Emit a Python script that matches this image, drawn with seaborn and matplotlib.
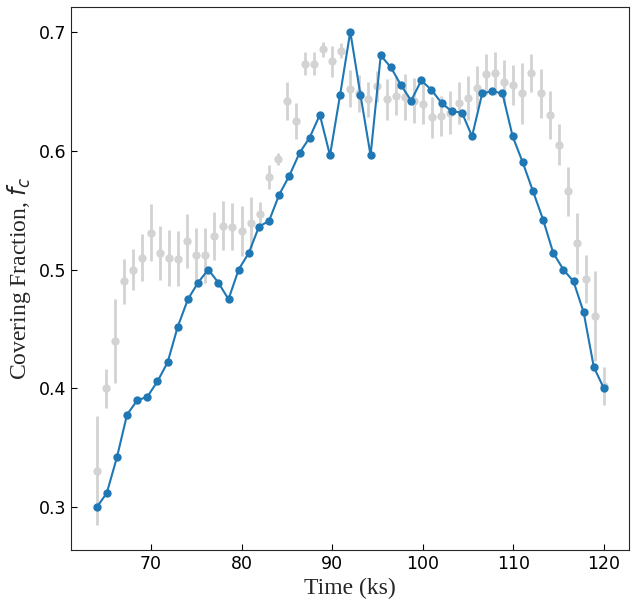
import numpy as np
import pandas as pd
import matplotlib
matplotlib.use('Agg')
import matplotlib.pyplot as plt
import seaborn as sns

# Courbe modélisée (bleu)
time_model = [64.00, 65.12, 66.24, 67.36, 68.48, 69.60, 70.72, 71.84, 72.96, 74.08,
              75.20, 76.32, 77.44, 78.56, 79.68, 80.80, 81.92, 83.04, 84.16, 85.28,
              86.40, 87.52, 88.64, 89.76, 90.88, 92.00, 93.12, 94.24, 95.36, 96.48,
              97.60, 98.72, 99.84, 100.96, 102.08, 103.20, 104.32, 105.44, 106.56, 107.68,
              108.80, 109.92, 111.04, 112.16, 113.28, 114.40, 115.52, 116.64, 117.76, 118.88,
              120.00]
fc_model = [0.300, 0.312, 0.342, 0.378, 0.390, 0.393, 0.406, 0.422, 0.452, 0.475,
            0.489, 0.500, 0.489, 0.475, 0.500, 0.514, 0.536, 0.541, 0.563, 0.579,
            0.598, 0.611, 0.630, 0.596, 0.647, 0.700, 0.647, 0.596, 0.680, 0.670,
            0.655, 0.642, 0.659, 0.651, 0.640, 0.633, 0.632, 0.612, 0.648, 0.650,
            0.648, 0.612, 0.590, 0.566, 0.542, 0.514, 0.500, 0.490, 0.464, 0.418,
            0.400]

# Mesures (gris) avec barres d'erreur
time_obs = [64, 65, 66, 67, 68, 69, 70, 71, 72, 73, 74, 75, 76, 77, 78, 79, 80, 81, 82,
            83, 84, 85, 86, 87, 88, 89, 90, 91, 92, 93, 94, 95, 96, 97, 98, 99, 100, 101,
            102, 103, 104, 105, 106, 107, 108, 109, 110, 111, 112, 113, 114, 115, 116,
            117, 118, 119, 120]
fc_obs = [0.331, 0.400, 0.440, 0.490, 0.500, 0.510, 0.531, 0.514, 0.510, 0.509,
          0.524, 0.512, 0.512, 0.528, 0.537, 0.536, 0.532, 0.539, 0.547, 0.578,
          0.593, 0.642, 0.625, 0.673, 0.673, 0.685, 0.675, 0.684, 0.652, 0.648,
          0.643, 0.654, 0.643, 0.646, 0.645, 0.642, 0.639, 0.628, 0.629, 0.632,
          0.640, 0.644, 0.653, 0.664, 0.665, 0.658, 0.655, 0.648, 0.665, 0.648,
          0.630, 0.605, 0.566, 0.522, 0.492, 0.461, 0.402]
fc_err = [0.046, 0.016, 0.035, 0.019, 0.017, 0.020, 0.024, 0.023, 0.0235, 0.023,
          0.023, 0.023, 0.023, 0.020, 0.021, 0.020, 0.021, 0.022, 0.0095, 0.010,
          0.005, 0.016, 0.015, 0.0096, 0.0096, 0.0063, 0.013, 0.0065, 0.0154, 0.0154,
          0.015, 0.013, 0.017, 0.0165, 0.019, 0.0187, 0.017, 0.017, 0.0165, 0.018,
          0.018, 0.0185, 0.018, 0.0175, 0.018, 0.018, 0.017, 0.0256, 0.016, 0.0205,
          0.020, 0.017, 0.0206, 0.0256, 0.020, 0.0377, 0.016]

df_model = pd.DataFrame({'time': time_model, 'fc': fc_model})
df_obs = pd.DataFrame({'time': time_obs, 'fc': fc_obs, 'err': fc_err})

sns.set_style('ticks', {'xtick.direction': 'in', 'ytick.direction': 'in'})

fig = plt.figure(figsize=(6.36, 6.05), dpi=100)
ax = fig.add_axes([0.112, 0.091, 0.8775, 0.8975])

ax.errorbar(df_obs['time'], df_obs['fc'], yerr=df_obs['err'], fmt='none',
            ecolor='lightgray', elinewidth=2, zorder=1)
sns.scatterplot(x='time', y='fc', data=df_obs, color='lightgray', s=36,
                linewidth=0, ax=ax, zorder=2)
sns.lineplot(x='time', y='fc', data=df_model, color='#1f77b4', marker='o',
             markersize=6, markeredgewidth=0, linewidth=1.5, ax=ax, zorder=3)

ax.set_xticks([70, 80, 90, 100, 110, 120])
ax.set_yticks([0.3, 0.4, 0.5, 0.6, 0.7])
ax.tick_params(labelsize=12.5, colors='black', length=4)
ax.set_xlabel('Time (ks)', family='Liberation Serif', fontsize=17)
ax.set_ylabel('Covering Fraction, $f_c$', family='Liberation Serif', fontsize=17)
for sp in ax.spines.values():
    sp.set_color('#262626')

fig.savefig('out.png', dpi=100)
